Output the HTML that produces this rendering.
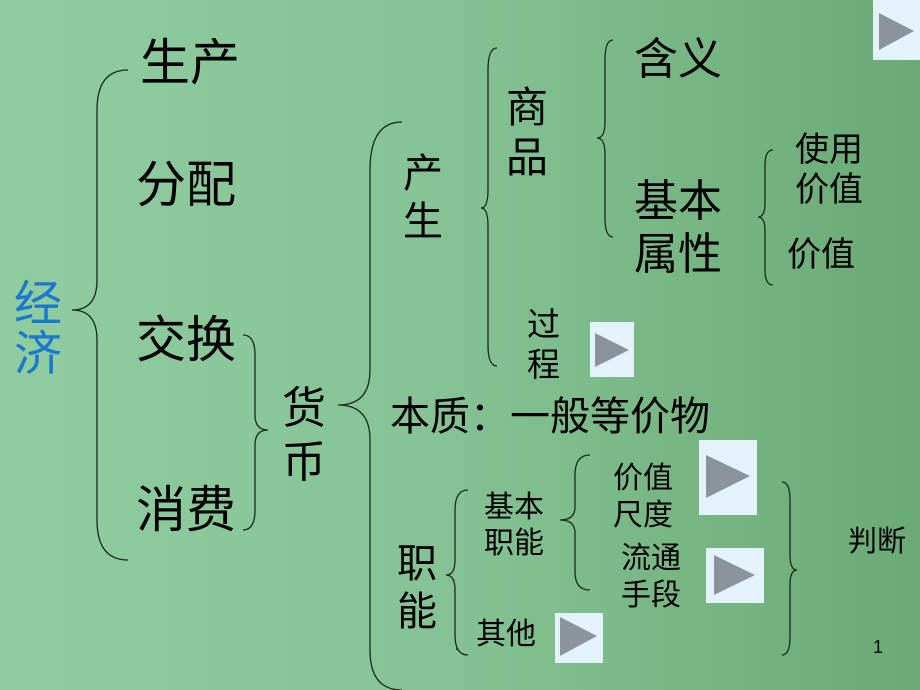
<!DOCTYPE html>
<html><head><meta charset="utf-8"><style>
html,body{margin:0;padding:0}
body{width:920px;height:690px;position:relative;overflow:hidden;
background:linear-gradient(90deg,#8fcc9f 0%,#86c496 45%,#74b480 80%,#6aaa76 100%);
font-family:"Liberation Sans","WenQuanYi Zen Hei","Noto Sans CJK SC",sans-serif;color:#000}
.t{position:absolute;white-space:nowrap;line-height:1}
.btn{position:absolute;background:#e4f3fb}
svg{position:absolute;left:0;top:0}
</style></head><body>
<svg width="920" height="690" fill="none" stroke="#1a2a1a" stroke-width="1.3">
<path d="M128 70 Q97 70 97 110 L97 280 Q97 310 72 310 Q97 310 97 340 L97 520 Q97 560 128 560"/>
<path d="M243 335 Q255 335 255 355 L255 415 Q255 430 268 430 Q255 430 255 445 L255 510 Q255 530 243 530"/>
<path d="M402 122 Q370 122 370 170 L370 370 Q370 405 338 405 Q370 405 370 440 L370 650 Q370 690 402 690"/>
<path d="M497 48 Q488 48 488 70 L488 190 Q488 208 481 208 Q488 208 488 226 L488 345 Q488 366 497 366"/>
<path d="M613 40 Q605 40 605 60 L605 122 Q605 138 597 138 Q605 138 605 154 L605 218 Q605 237 613 237"/>
<path d="M773 150 Q765 150 765 165 L765 203 Q765 217 758 217 Q765 217 765 231 L765 270 Q765 285 773 285"/>
<path d="M468 490 Q455 490 455 510 L455 560 Q455 575 446 575 Q455 575 455 590 L455 635 Q455 655 468 655"/>
<path d="M590 455 Q575 455 575 475 L575 507 Q575 520 560 520 Q575 520 575 533 L575 572 Q575 590 590 590"/>
<path d="M782 482 Q790 482 790 500 L790 555 Q790 570 797 570 Q790 570 790 585 L790 637 Q790 655 782 655"/>
</svg>
<div class="t" style="left:14px;top:280px;font-size:48px;color:#1a78d0;line-height:50px">经<br>济</div>
<div class="t" style="left:140px;top:38px;font-size:50px">生产</div>
<div class="t" style="left:136px;top:160px;font-size:50px">分配</div>
<div class="t" style="left:136px;top:315px;font-size:50px">交换</div>
<div class="t" style="left:136px;top:485px;font-size:50px">消费</div>
<div class="t" style="left:282px;top:382px;font-size:44px;line-height:54px">货<br>币</div>
<div class="t" style="left:403px;top:150px;font-size:40px;line-height:48px">产<br>生</div>
<div class="t" style="left:506px;top:83px;font-size:42px;line-height:50px">商<br>品</div>
<div class="t" style="left:634px;top:38px;font-size:44px">含义</div>
<div class="t" style="left:634px;top:175px;font-size:44px;line-height:53px">基本<br>属性</div>
<div class="t" style="left:795px;top:130px;font-size:34px;line-height:40px">使用<br>价值</div>
<div class="t" style="left:787px;top:238px;font-size:34px">价值</div>
<div class="t" style="left:527px;top:305px;font-size:33px;line-height:40px">过<br>程</div>
<div class="t" style="left:390px;top:397px;font-size:40px">本质：一般等价物</div>
<div class="t" style="left:397px;top:540px;font-size:40px;line-height:48px">职<br>能</div>
<div class="t" style="left:484px;top:490px;font-size:30px;line-height:36px">基本<br>职能</div>
<div class="t" style="left:476px;top:620px;font-size:30px">其他</div>
<div class="t" style="left:455px;top:638px;font-size:14px">.</div>
<div class="t" style="left:613px;top:460px;font-size:30px;line-height:37px">价值<br>尺度</div>
<div class="t" style="left:621px;top:540px;font-size:30px;line-height:37px">流通<br>手段</div>
<div class="t" style="left:848px;top:528px;font-size:29px">判断</div>
<div class="t" style="left:873px;top:638px;font-size:18px">1</div>
<div class="btn" style="left:873px;top:0;width:47px;height:60px"></div>
<div class="btn" style="left:590px;top:322px;width:44px;height:55px"></div>
<div class="btn" style="left:699px;top:440px;width:58px;height:75px"></div>
<div class="btn" style="left:706px;top:548px;width:58px;height:55px"></div>
<div class="btn" style="left:555px;top:613px;width:48px;height:50px"></div>
<svg width="920" height="690">
<polygon points="879,13 879,50 914,31" fill="#8a949a"/>
<polygon points="595,333 595,367 629,350" fill="#8a949a"/>
<polygon points="706,455 706,498 750,476" fill="#8a949a"/>
<polygon points="714,555 714,595 755,575" fill="#8a949a"/>
<polygon points="560,617 560,656 597,636" fill="#8a949a"/>
</svg>
</body></html>
